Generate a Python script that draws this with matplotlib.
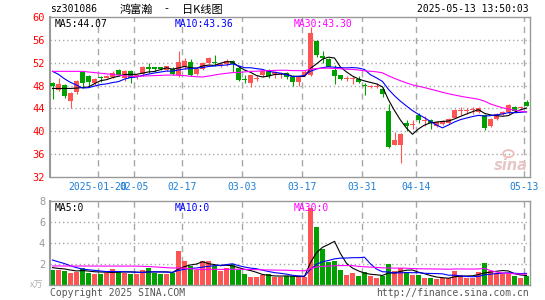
import numpy as np
import pandas as pd
import matplotlib
matplotlib.use("Agg")
import matplotlib.pyplot as plt
from matplotlib.patches import Ellipse

# ---------------- data ----------------
holidays = ["2025-01-28", "2025-01-29", "2025-01-30", "2025-01-31", "2025-02-03",
            "2025-02-04", "2025-04-04", "2025-05-01", "2025-05-02", "2025-05-05"]
dates = pd.bdate_range("2025-01-08", "2025-05-13")
dates = dates[~dates.isin(pd.to_datetime(holidays))]

opens = [48.4, 47.3, 48.1, 45.3, 46.9, 50.4, 49.6, 48.5, 49.4, 49.4,
         49.5, 50.8, 49.3, 50.6, 49.5, 50.0, 51.1, 51.1, 51.1, 50.8,
         51.0, 49.8, 51.3, 52.1, 50.1, 50.9, 51.9, 52.1, 51.6, 51.8,
         52.4, 51.1, 49.2, 48.5, 49.2, 49.8, 50.8, 50.1, 50.0, 50.2,
         49.5, 48.6, 49.8, 49.8, 55.8, 53.2, 52.6, 50.8, 49.8, 49.1,
         49.1, 49.1, 48.0, 47.8, 47.8, 47.4, 43.6, 37.6, 37.6, 41.5,
         41.1, 42.8, 41.8, 42.0, 40.9, 41.3, 41.5, 42.4, 43.5, 43.6,
         43.7, 43.4, 42.9, 40.9, 42.2, 43.1, 43.3, 44.3, 44.0, 45.2]
highs = [48.7, 49.3, 48.2, 46.9, 49.0, 50.5, 49.9, 49.3, 49.7, 49.8,
         50.5, 51.0, 50.8, 50.8, 50.0, 51.4, 52.0, 51.3, 51.3, 51.5,
         51.2, 54.0, 52.9, 52.6, 51.1, 52.2, 53.0, 53.3, 52.0, 52.7,
         52.5, 51.5, 49.9, 49.9, 49.9, 50.7, 50.9, 50.5, 50.3, 50.3,
         49.9, 49.6, 50.7, 58.3, 56.0, 54.1, 52.9, 51.7, 49.9, 49.6,
         49.6, 49.6, 48.5, 48.1, 48.5, 47.7, 44.8, 39.8, 39.6, 42.0,
         42.0, 43.2, 42.6, 42.2, 41.8, 42.0, 42.3, 43.9, 44.2, 44.1,
         44.2, 44.2, 43.1, 42.3, 43.2, 43.5, 44.7, 44.4, 44.4, 45.4]
lows = [45.7, 47.0, 45.9, 44.0, 46.5, 47.6, 47.9, 48.1, 48.7, 49.3,
        49.4, 49.6, 48.8, 48.4, 49.2, 49.7, 50.2, 50.6, 50.7, 50.6,
        49.8, 49.5, 51.0, 49.6, 49.9, 50.7, 51.8, 51.4, 51.3, 51.4,
        50.4, 48.8, 48.4, 47.8, 48.8, 49.5, 49.3, 49.3, 49.3, 49.2,
        48.0, 48.0, 49.6, 49.6, 53.0, 52.0, 51.2, 48.2, 49.0, 48.8,
        48.2, 48.4, 46.4, 47.6, 47.6, 46.0, 37.0, 37.5, 34.5, 40.0,
        40.3, 41.4, 41.0, 40.4, 40.7, 41.1, 41.3, 42.3, 42.9, 43.1,
        43.0, 43.2, 40.2, 40.7, 42.0, 42.9, 43.1, 43.4, 43.9, 44.4]
closes = [47.9, 48.2, 46.2, 46.7, 48.8, 48.4, 48.7, 49.1, 49.3, 49.7,
          50.2, 49.9, 50.6, 49.4, 49.8, 51.2, 51.0, 51.0, 51.0, 51.4,
          50.0, 52.1, 52.3, 49.9, 50.9, 52.0, 52.9, 52.0, 51.8, 52.3,
          51.8, 48.9, 48.9, 49.8, 49.4, 50.6, 49.6, 50.35, 50.1, 49.5,
          48.6, 49.5, 50.35, 57.2, 53.4, 52.8, 51.2, 49.6, 49.2, 49.2,
          49.2, 48.6, 47.9, 47.9, 47.9, 46.6, 37.2, 38.5, 39.5, 40.9,
          41.2, 41.9, 41.9, 41.4, 41.6, 41.8, 42.2, 43.8, 43.6, 43.7,
          43.8, 44.0, 40.6, 42.2, 43.0, 43.3, 44.6, 43.6, 44.3, 44.5]
volumes = [1.43, 1.43, 1.37, 1.17, 1.27, 1.65, 1.17, 1.05, 1.05, 1.17,
           1.52, 1.33, 1.17, 1.05, 1.02, 1.43, 1.59, 1.17, 1.02, 1.02,
           1.17, 3.24, 2.29, 1.84, 1.43, 2.29, 2.29, 1.84, 1.37, 1.65,
           1.97, 1.43, 1.05, 0.79, 0.79, 0.95, 1.05, 0.73, 0.73, 0.86,
           0.86, 0.86, 0.79, 7.30, 5.56, 3.43, 2.22, 2.29, 1.43, 0.95,
           1.17, 0.86, 1.27, 0.86, 0.70, 0.86, 2.00, 1.33, 1.59, 1.27,
           0.95, 0.95, 0.63, 0.70, 0.57, 0.63, 0.70, 1.33, 0.95, 0.70,
           0.70, 1.27, 2.13, 1.33, 1.11, 1.05, 1.05, 0.86, 0.70, 0.86]
# sessions before the first visible candle (only feed the moving averages)
prior_closes = [48.2, 46.2, 46.7, 48.8, 48.4, 52.0, 52.4, 52.6, 53.0, 53.5,
                53.2, 53.9, 52.7, 49.5, 50.0, 49.8, 49.6, 50.0, 49.7, 49.8,
                53.5, 54.0, 53.0, 53.5, 53.5, 48.2, 46.2, 46.7, 48.5]
prior_volumes = [1.4, 1.4, 1.3, 1.3, 1.6, 1.2, 1.1, 1.1, 1.2, 1.5,
                 1.3, 1.2, 1.1, 1.0, 2.1, 2.2, 2.1, 2.2, 2.1, 2.1,
                 3.2, 3.0, 3.3, 3.0, 3.05, 1.8, 1.6, 1.7, 1.72]

tick_dates = ["2025-01-20", "2025-02-05", "2025-02-17", "2025-03-03",
              "2025-03-17", "2025-03-31", "2025-04-14", "2025-05-13"]
tick_labels = ["2025-01-20", "02-05", "02-17", "03-03", "03-17", "03-31", "04-14", "05-13"]
price_ticks = [60, 56, 52, 48, 44, 40, 36, 32]
vol_ticks = [8, 6, 4, 2]
price_ma_labels = ["MA5:44.07", "MA10:43.36", "MA30:43.30"]
vol_ma_labels = ["MA5:0", "MA10:0", "MA30:0"]
ma_windows = [5, 10, 30]
title_parts = ["鸿富瀚", "-", "日K线图"]

# ---------------- styling ----------------
RED = "#FF5454"
GREEN = "#00A000"
MA_COLORS = ["#000000", "#0000FF", "#FF00FF"]
GRID = "#A8A8A8"
FRAME = "#999999"
DATE_C = "#1C7ED6"
MONO = "DejaVu Sans Mono"
CJK = ["Noto Sans CJK SC", "DejaVu Sans"]
W, H = 545, 300

fig = plt.figure(figsize=(W / 100, H / 100), dpi=100)
fig.patch.set_facecolor("white")


def rect(x0, y0, x1, y1):
    return [x0 / W, 1 - y1 / H, (x1 - x0) / W, (y1 - y0) / H]


ax = fig.add_axes(rect(50, 17.2, 530, 176.8))
axv = fig.add_axes(rect(50, 201, 530, 285))

n = len(closes)
x = np.arange(n)
o = np.array(opens); c = np.array(closes); h = np.array(highs); l = np.array(lows)
v = np.array(volumes)
up = c >= o
cols = [RED if u else GREEN for u in up]
bw = 5 / 6

# moving averages
all_c = pd.Series(list(prior_closes) + list(closes))
all_v = pd.Series(list(prior_volumes) + list(volumes))
k = len(prior_closes)

for a in (ax, axv):
    a.set_xlim(-0.5 + 1 / 12, n - 0.5 + 1 / 12)
    for s in a.spines.values():
        s.set_color(FRAME)
        s.set_linewidth(1.0)
    a.spines["left"].set_linewidth(1.5)
    a.set_xticks([])
    a.tick_params(axis="y", length=0, pad=3.5)

# vertical dashed lines
tick_idx = [int(np.where(dates == pd.Timestamp(d))[0][0]) for d in tick_dates]
for a in (ax, axv):
    for ti in tick_idx:
        a.axvline(ti - 0.5 + 1 / 12, color=GRID, lw=1.0, ls=(0, (4.5, 3.5)), zorder=0)

# ---- price panel ----
ax.set_ylim(32, 60)
for p in price_ticks[1:-1]:
    ax.axhline(p, color=GRID, lw=1.0, ls=(0, (1, 2)), zorder=0)
ax.set_yticks(price_ticks)
ax.set_yticklabels([str(t) for t in price_ticks], color="#FF0000", family=MONO, fontsize=7.5)

ax.vlines(x, l, h, colors=cols, lw=0.8, zorder=2)
body_lo = np.minimum(o, c)
body_h = np.maximum(np.abs(c - o), 0.18)
ax.bar(x, body_h, bottom=body_lo, width=bw, color=cols, lw=0, zorder=3)

for w, col in zip(ma_windows, MA_COLORS):
    ma = all_c.rolling(w).mean().values[k:]
    ax.plot(x, ma, color=col, lw=0.8, zorder=4)

# watermark (sina logo)
ax.text(0.995, 0.025, "sina", transform=ax.transAxes, ha="right", va="bottom",
        fontsize=10.5, fontweight="bold", style="italic", color="#E6C6C6", zorder=1)
ax.add_patch(Ellipse((0.955, 0.145), 0.022, 0.045, transform=ax.transAxes,
                     facecolor="none", edgecolor="#F0B8B8", lw=1.2, zorder=1))

# ---- volume panel ----
axv.set_ylim(0, 8)
for p in vol_ticks[1:]:
    axv.axhline(p, color=GRID, lw=1.0, ls=(0, (1, 2)), zorder=0)
axv.set_yticks(vol_ticks)
axv.set_yticklabels([str(t) for t in vol_ticks], color="#999999", family=MONO, fontsize=7.5)
axv.bar(x, v, width=bw, color=cols, lw=0, zorder=2)
for w, col in zip(ma_windows, MA_COLORS):
    ma = all_v.rolling(w).mean().values[k:]
    axv.plot(x, ma, color=col, lw=0.8, zorder=4)


def ftxt(px, py, s, **kw):
    fig.text(px / W, 1 - py / H, s, **kw)


# titles
ftxt(50, 12, "sz301086", family=MONO, fontsize=7, ha="left", va="baseline", color="#000000")
ftxt(120, 12.5, title_parts[0], family=CJK, fontsize=8, ha="left", va="baseline", color="#000000")
ftxt(166.5, 12.5, title_parts[1], family=CJK, fontsize=8, ha="center", va="baseline", color="#000000")
ftxt(182, 12.5, title_parts[2], family=CJK, fontsize=8, ha="left", va="baseline", color="#000000")
ftxt(529, 12, "2025-05-13 13:50:03", family=MONO, fontsize=7, ha="right", va="baseline",
     color="#000000")

# MA labels
ma_x = [55, 175, 294]
for px, s, col in zip(ma_x, price_ma_labels, MA_COLORS):
    ftxt(px, 27, s, family=MONO, fontsize=7, ha="left", va="baseline", color=col)
for px, s, col in zip(ma_x, vol_ma_labels, MA_COLORS):
    ftxt(px, 211, s, family=MONO, fontsize=7, ha="left", va="baseline", color=col)

# date labels
for ti, lab in zip(tick_idx, tick_labels):
    px = 50 + 6 * ti
    ftxt(px, 189.5, lab, family=MONO, fontsize=7, ha="center", va="baseline", color=DATE_C)

# volume unit & footers
ftxt(43, 288, "x万", family=CJK, fontsize=6.5, ha="right",
     va="baseline", color="#B0B0B0")
ftxt(50, 296, "Copyright 2025 SINA.COM", family=MONO, fontsize=7, ha="left", va="baseline",
     color="#555555")
ftxt(529, 296, "http://finance.sina.com.cn", family=MONO, fontsize=7, ha="right", va="baseline",
     color="#555555")

fig.savefig("out.png", dpi=100, facecolor="white")
